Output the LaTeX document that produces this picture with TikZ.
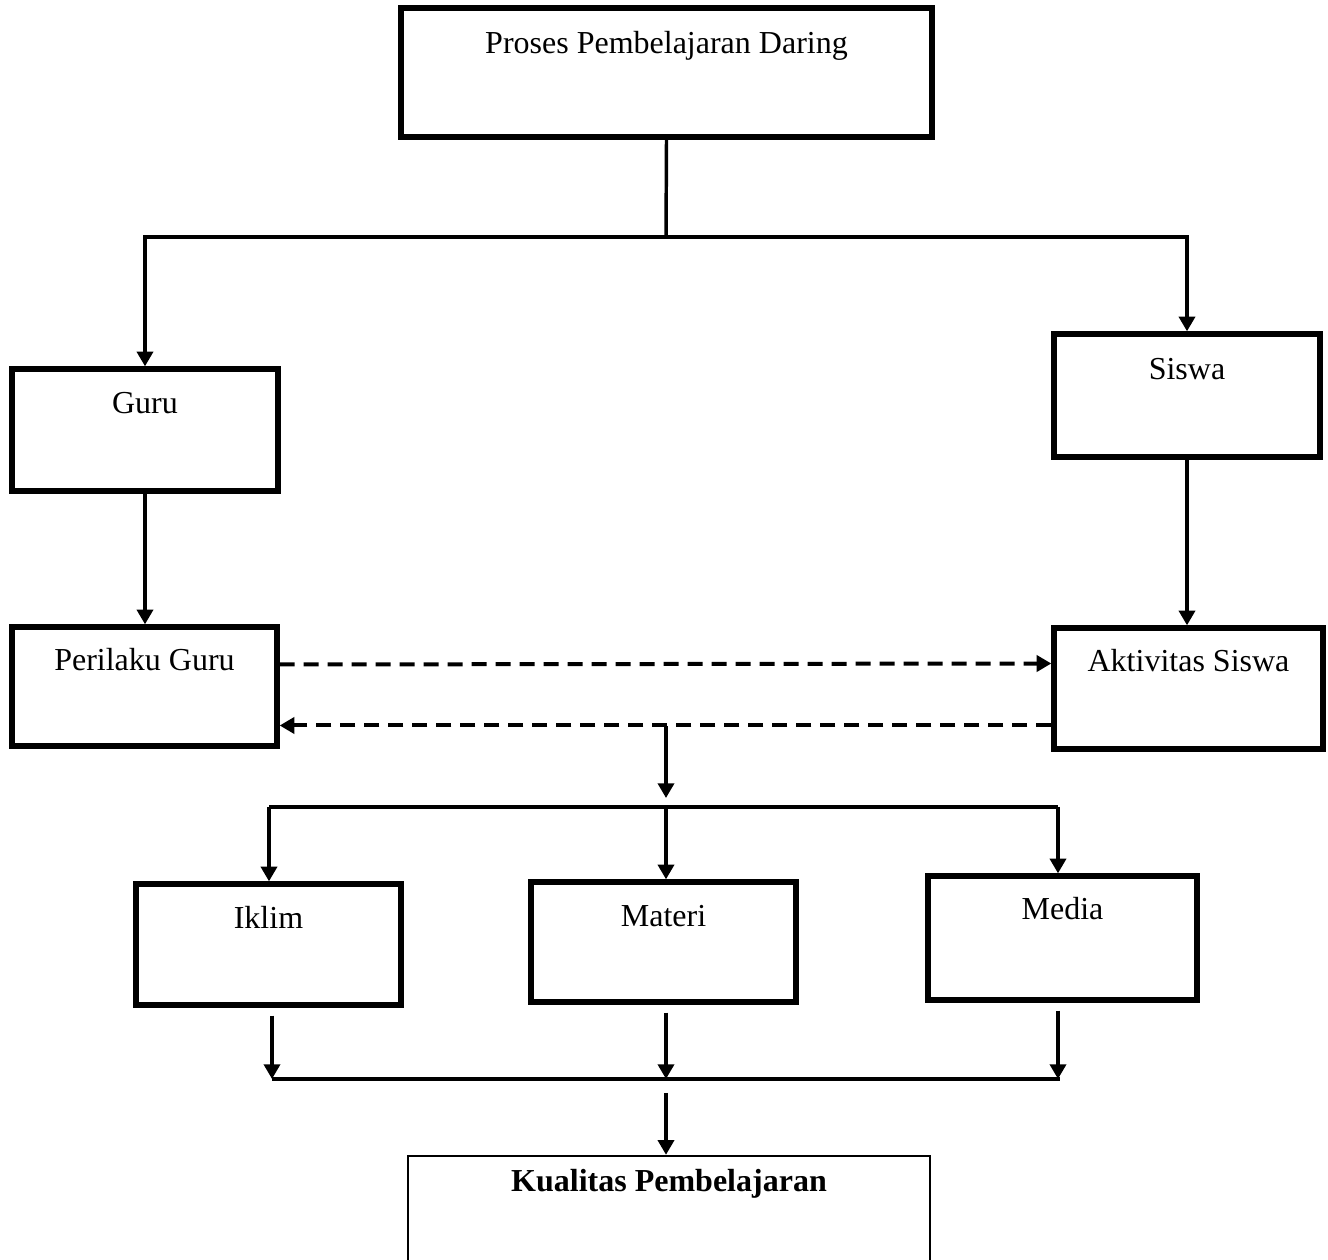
\documentclass[tikz,border=0pt]{standalone}
\usepackage{fontspec}
\setmainfont{Liberation Serif}
\usetikzlibrary{calc,arrows.meta}

\begin{document}
\begin{tikzpicture}[x=0.375pt,y=-0.375pt,
  box/.style 2 args={draw, line width=2pt, minimum width=#1*0.375pt,
    minimum height=#2*0.375pt, inner sep=0pt},
  lbl/.style={anchor=base, inner sep=0pt, font=\fontsize{12}{14}\selectfont},
  line/.style={line width=1.3pt},
  arr/.style={line width=1.3pt, -{Triangle[length=5.5pt,width=6pt]}},
  dasharr/.style={line width=1.5pt, dash pattern=on 5.6pt off 3.4pt,
    -{Triangle[length=5.5pt,width=6pt]}}]
  \useasboundingbox (0,0) rectangle (1328,1260);

  % Boxes
  \node[box={531}{129}] (proses) at (666.5,72.5) {};
  \node[box={266}{122}] (guru) at (145,430) {};
  \node[box={266}{123}] (siswa) at (1187,395.5) {};
  \node[box={265}{119}] (perilaku) at (144.5,686.5) {};
  \node[box={269}{121}] (aktivitas) at (1188.5,688.5) {};
  \node[box={265}{121}] (iklim) at (268.5,944.5) {};
  \node[box={265}{120}] (materi) at (663.5,942) {};
  \node[box={269}{124}] (media) at (1062.5,938) {};
  \node[draw, line width=0.9pt, minimum width=522*0.375pt,
    minimum height=130*0.375pt, inner sep=0pt] (kualitas) at (669,1221) {};

  % Texts
  \node[lbl] (prosesT) at ($(proses.north)+(0,48)$) {Proses Pembelajaran Daring};
  \node[lbl] (guruT) at ($(guru.north)+(0,47)$) {Guru};
  \node[lbl] (siswaT) at ($(siswa.north)+(0,48)$) {Siswa};
  \node[lbl] (perilakuT) at ($(perilaku.north)+(0,46)$) {Perilaku Guru};
  \node[lbl] (aktivitasT) at ($(aktivitas.north)+(0,46)$) {Aktivitas Siswa};
  \node[lbl] (iklimT) at ($(iklim.north)+(0,47)$) {Iklim};
  \node[lbl] (materiT) at ($(materi.north)+(0,47)$) {Materi};
  \node[lbl] (mediaT) at ($(media.north)+(0,46)$) {Media};
  \node[lbl, font=\fontsize{12}{14}\selectfont\bfseries] (kualitasT)
    at ($(kualitas.north)+(0,37)$) {Kualitas Pembelajaran};

  % Guru and Siswa
  \coordinate (split) at (666,237);
  \draw[line] (proses.south) -- (split);
  \draw[arr] (split) -| (guru.north);
  \draw[arr] (split) -| (siswa.north);
  \draw[arr] (guru.south) -- (guru.south |- perilaku.north);
  \draw[arr] (siswa.south) -- (siswa.south |- aktivitas.north);

  % Interaction
  \draw[dasharr] ($(perilaku.east)+(0,-22)$) -- ($(aktivitas.west)+(0,-25)$);
  \draw[dasharr] ($(aktivitas.west)+(0,37)$) -- ($(perilaku.east)+(0,39)$);

  % Fork to Iklim, Materi, Media
  \coordinate (fork) at (666,726);
  \coordinate (forkend) at (666,798);
  \coordinate (barL) at (269,807);
  \coordinate (barM) at (666,807);
  \coordinate (barR) at (1058,807);
  \draw[arr] (fork) -- (forkend);
  \draw[line] (barL) -- (barR);
  \draw[arr] (barL) -- (barL |- iklim.north);
  \draw[arr] (barM) -- (barM |- materi.north);
  \draw[arr] (barR) -- (barR |- media.north);

  % Join to Kualitas
  \coordinate (joinL) at (272,1079);
  \coordinate (joinM) at (666,1079);
  \coordinate (joinR) at (1058,1079);
  \draw[arr] ($(iklim.south -| joinL)+(0,8)$) -- (joinL);
  \draw[arr] ($(materi.south -| joinM)+(0,8)$) -- (joinM);
  \draw[arr] ($(media.south -| joinR)+(0,8)$) -- (joinR);
  \draw[line] (joinL) -- ($(joinR)+(2,0)$);
  \draw[arr] ($(joinM)+(0,14)$) -- (joinM |- kualitas.north);
\end{tikzpicture}
\end{document}
